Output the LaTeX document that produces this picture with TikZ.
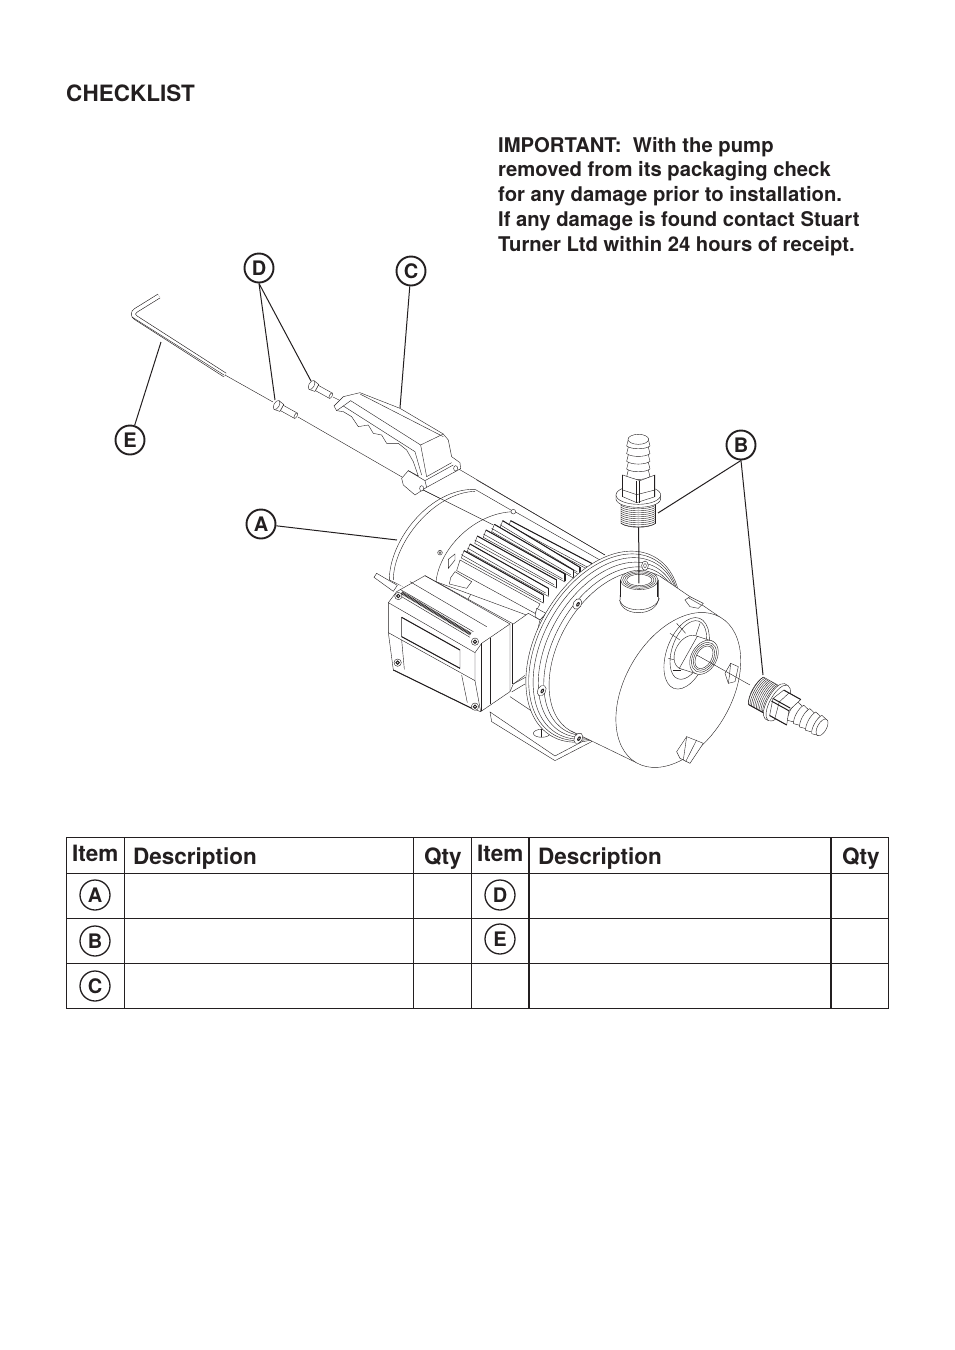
\documentclass[tikz,border=0pt]{standalone}
\usepackage{fontspec}
\setmainfont{TeX Gyre Heros}
\definecolor{ink}{HTML}{231F20}
\tikzset{
  viewa/.style={shift={(360,480)},x=.3333pt,y=-.3333pt},
  viewb/.style={shift={(520,420)},x=.3333pt,y=-.3333pt},
  viewc/.style={shift={(110,280)},x=.3333pt,y=-.3333pt},
  part/.style={draw=ink,line width=.4pt,fill=white},
  thinline/.style={draw=ink,line width=.4pt},
  heavyline/.style={draw=ink,line width=1pt},
  leader/.style={draw=ink,line width=1pt},
  callout/.style={circle,draw=ink,line width=1.9pt,inner sep=0pt,minimum size=29pt,text=ink,font=\bfseries\fontsize{20}{20}\selectfont},
  rowmark/.style={callout,line width=1.3pt,minimum size=30pt},
  headtext/.style={anchor=base west,inner sep=0pt,text=ink,font=\bfseries\fontsize{22.5}{24}\selectfont},
  gridline/.style={draw=ink,line width=.9pt},
  capscrew/.pic={
    \draw[part] (12,-9) -- (60,-9) -- (60,9) -- (12,9) -- cycle;
    \draw[part] (60,0) circle [x radius=4, y radius=9];
    \draw[part] (-6,-15) -- (12,-12) -- (12,12) -- (-6,15) -- cycle;
    \draw[part] (-6,0) circle [x radius=8, y radius=15];
  },
  barbfitting/.pic={
    \draw[part] (-52,-70) -- (-52,-10) .. controls (-30,6) and (30,6) .. (52,-10) -- (52,-70) -- cycle;
    \foreach \ty in {-64,-58,...,-10}
      \draw[thinline] (-52,\ty) .. controls (-30,\ty+14) and (30,\ty+14) .. (52,\ty);
    \draw[heavyline] (52,-70) -- (52,-12);
    \draw[part] (-67,-95) -- (-67,-82) .. controls (-60,-50) and (60,-50) .. (67,-82) -- (67,-95) -- cycle;
    \draw[part] (0,-95) circle [x radius=67, y radius=28];
    \foreach \by in {-150,-173,-196,-219,-242}
      \draw[part] (-35,\by) .. controls (-20,\by+11) and (20,\by+11) .. (35,\by) -- (29,\by-24) -- (-29,\by-24) -- cycle;
    \draw[part] (0,-262) circle [x radius=31, y radius=15];
    \draw[part] (-47,-155) -- (-47,-90) -- (-5,-72) -- (50,-90) -- (50,-155) -- (5,-138) -- cycle;
    \draw[heavyline] (-47,-155) -- (-47,-90);
    \draw[heavyline] (-5,-138) -- (-5,-72);
    \draw[heavyline] (5,-138) -- (5,-72);
    \draw[heavyline] (50,-155) -- (50,-90);
    \draw[thinline] (-47,-110) -- (-5,-96) -- (50,-110);
  },
}
\begin{document}
\begin{tikzpicture}[x=1pt,y=-1pt]
  \useasboundingbox (0,0) rectangle (954,1350);

  % hex key and the fixing line
  \draw[ink,line width=.6pt,double=white,double distance=3.6pt,rounded corners=7pt] (159,296) -- (130,314) -- (225,375);
  \draw[thinline] (132,317) -- (224,375);
  \draw[thinline] (225,375) -- (273,402);
  \draw[thinline] (298,417) -- (402,477);
  \draw[thinline] (333,397) -- (341,401);
  \draw[thinline] (457,468) -- (605,555);

  % screws
  \begin{scope}[viewc]
    \pic[rotate=-29] at (505,378) {capscrew};
    \pic[rotate=-29] at (610,318) {capscrew};
  \end{scope}

  % handle
  \begin{scope}[viewc]
    \draw[part] (1000,462) -- (1015,480) -- (1025,530) -- (1050,548) -- (1052,566) -- (950,622) -- (915,645) -- (880,615) -- (875,595) -- (895,572) -- (925,588) -- (910,545) -- (890,510) -- (865,490) -- (830,490) -- (815,465) -- (790,460) -- (775,435) -- (745,440) -- (725,410) -- (700,395) -- (680,392) -- (672,378) -- (700,350) -- (750,338) -- (870,385) -- cycle;
    \draw[thinline] (700,378) -- (722,362) -- (932,495) -- (1000,462);
    \draw[thinline] (680,392) -- (700,378) -- (915,515);
    \draw[thinline] (750,342) -- (1000,470);
    \draw[thinline] (932,495) -- (950,590) -- (1025,548);
    \draw[thinline] (915,515) -- (935,585);
    \draw[thinline] (895,572) -- (945,602) -- (1030,555);
    \draw[thinline] (945,602) -- (950,622);
    \draw[part] (935,625) circle [x radius=6, y radius=8];
    \draw[part] (1037,565) circle [x radius=6, y radius=8];
  \end{scope}
  \draw[thinline] (423,490) -- (493,525);

  % motor cowl and fins
  \begin{scope}[viewa]
    \draw[part] (88,300) .. controls (88,180) and (210,25) .. (345,28) -- (470,100) -- (300,400) -- cycle;
    \draw[thinline] (100,300) .. controls (100,190) and (220,38) .. (345,34);
    \fill[white] (100,302) -- (290,420) -- (300,400) -- (92,296) -- cycle;
    \draw[part] (228,305) .. controls (240,200) and (350,95) .. (465,95) -- (720,240) -- (540,420) -- cycle;
    \draw[thinline] (190,30) -- (400,135);
    \draw[part] (240,218) circle [radius=7];
    \draw[thinline] (240,218) circle [radius=3];
    \draw[part] (460,95) circle [radius=7];
    \foreach \xa/\ya/\xb/\yb in {452/122/695/250,428/122/660/262,403/133/640/270,378/150/615/282,352/168/590/300,330/192/565/325,312/212/550/345}{
      \draw[thinline,fill=white] (\xa,\ya) -- (\xb,\yb) -- (\xb,\yb+24) -- (\xa-8,\ya+22) -- cycle;
      \draw[thinline] (\xa-8,\ya+12) -- (\xb-8,\yb+14);
      \draw[heavyline] (\xa,\ya) -- (\xb,\yb);
      \draw[line width=1.6pt,draw=ink] (\xb,\yb) -- (\xb,\yb+20);
    }
    \draw[thinline,fill=white] (300,240) -- (540,372) -- (525,400) -- (290,272) -- cycle;
    \draw[thinline,fill=white] (265,238) -- (285,222) -- (285,240) -- (265,265) -- cycle;
    \draw[part] (272,293) -- (285,275) -- (335,305) -- (320,325) -- (268,312) -- cycle;
    \draw[part] (530,385) -- (558,400) -- (540,420) -- (525,410) -- cycle;
    \draw[thinline] (350,0) -- (735,225);
  \end{scope}

  % terminal box
  \begin{scope}[viewa]
    \draw[part] (42,292) -- (50,280) -- (112,316) -- (100,334) -- cycle;
    \draw[part] (85,368) -- (110,335) -- (195,287) -- (460,432) -- (505,400) -- (540,420) -- (500,590) -- (460,612) -- (450,635) -- (362,695) -- (335,685) -- (100,570) -- (85,458) -- cycle;
    \draw[thinline] (85,368) -- (345,518) -- (345,602) -- (85,458);
    \draw[thinline] (345,518) -- (365,490) -- (450,432);
    \draw[thinline] (345,602) -- (362,695);
    \draw[thinline] (150,305) -- (380,440);
    \draw[thinline] (195,287) -- (450,432) -- (450,635);
    \draw[line width=.8pt,draw=ink] (365,490) -- (365,692);
    \draw[line width=1pt,draw=ink] (393,475) -- (393,672);
    \draw[line width=1pt,draw=ink] (458,432) -- (458,612);
    \draw[thinline] (120,328) -- (340,455);
    \draw[thinline] (118,346) -- (330,472);
    \draw[draw=ink,line width=3pt,dash pattern=on .8pt off .6pt] (125,338) -- (332,462);
    \draw[thinline] (125,412) -- (300,510) -- (300,565) -- (125,470) -- cycle;
    \draw[heavyline] (125,470) -- (300,565);
    \draw[heavyline] (125,412) -- (300,510);
    \draw[thinline] (125,480) -- (133,568);
    \draw[thinline] (305,585) -- (322,668);
    \draw[heavyline] (100,570) -- (335,685);
    \draw[thinline] (460,612) -- (495,586);
    \draw[thinline] (455,636) -- (495,612);
    \foreach \sx/\sy in {115/348,345/485,345/680,113/548}{
      \draw[part] (\sx,\sy) circle [radius=11];
      \draw[heavyline] (\sx,\sy) circle [radius=5];
    }
  \end{scope}

  % foot and flange rings
  \begin{scope}[viewb]
    \draw[part] (-90,876) -- (-85,905) -- (105,1022) -- (215,965) -- (215,950) -- (105,1008) -- cycle;
    \draw[thinline] (-30,830) -- (60,890);
    \draw[part] (65,940) circle [x radius=25, y radius=12];
    \draw[heavyline] (65,928) -- (65,952);
    \foreach \sh/\ra/\rb in {0/310/200,3/303/195,9/295/188,16/285/180,24/275/172,35/268/168}
      \draw[part] ({250+\sh},{680+.58*\sh}) circle [x radius=\ra, y radius=\rb, rotate=60];
    \draw[part] (375,437) circle [x radius=10, y radius=14];
    \draw[thinline] (375,437) circle [x radius=4, y radius=6];
  \end{scope}

  % pump body
  \begin{scope}[viewb]
    \fill[white] (419,468) -- (601,592) -- (349,1028) -- (151,932) -- cycle;
    \draw[thinline] (419,468) -- (601,592);
    \draw[thinline] (151,932) -- (349,1028);
    \draw[part] (475,810) circle [x radius=252, y radius=160, rotate=60];
    \foreach \sx/\sy in {172/552,65/812,175/955}{
      \draw[part] (\sx,\sy) circle [x radius=12, y radius=17, rotate=-30];
      \draw[heavyline] (\sx+2,\sy+1) circle [x radius=3, y radius=6, rotate=-30];
    }
    % inlet
    \draw[part] (500,700) circle [x radius=112, y radius=60, rotate=70];
    \draw[thinline] (505,690) circle [x radius=92, y radius=48, rotate=70];
    \draw[thinline] (450,640) -- (480,660);
    \draw[thinline] (470,610) -- (497,640);
    \draw[thinline] (540,610) -- (528,645);
    \draw[thinline] (445,715) -- (472,722);
    \draw[thinline] (460,750) -- (482,750);
    \draw[part] (505,697) circle [x radius=55, y radius=38, rotate=60];
    \draw[part] (532,649) -- (579,664) -- (525,760) -- (478,745) -- cycle;
    \foreach \ra/\rb in {55/38,48/33,42/28,37/23}
      \draw[part] (552,712) circle [x radius=\ra, y radius=\rb, rotate=60];
    % outlet boss
    \draw[part] (302,480) -- (300,545) .. controls (310,590) and (405,590) .. (415,540) -- (415,480) -- cycle;
    \draw[thinline] (298,540) .. controls (310,580) and (405,580) .. (418,535);
    \draw[heavyline] (303,480) -- (303,530);
    \draw[heavyline] (413,480) -- (413,530);
    \foreach \ra/\rb in {56/29,50/25,44/21,38/17}
      \draw[part] (358,480) circle [x radius=\ra, y radius=\rb];
    % plugs
    \draw[part] (495,540) -- (510,530) -- (550,550) -- (535,565) -- (510,560) -- cycle;
    \draw[thinline] (505,533) -- (545,556);
    \draw[part] (615,760) -- (632,730) -- (655,740) -- (645,785) -- (625,790) -- cycle;
    \draw[thinline] (632,730) -- (628,770) -- (625,790);
    \draw[part] (470,995) -- (500,950) -- (550,970) -- (510,1030) -- (480,1015) -- cycle;
    \draw[thinline] (500,950) -- (490,1020);
    \draw[thinline] (530,960) -- (497,1025);
    \draw[thinline] (530,705) -- (690,795);
  \end{scope}

  % fittings
  \begin{scope}[viewb]
    \pic at (355,320) {barbfitting};
    \pic[rotate=-119,scale=.9] at (700,808) {barbfitting};
    \draw[line width=1pt,draw=ink] (356,322) -- (357,490);
  \end{scope}

  % callouts and leaders
  \node[callout] (A) at (261,524) {A};
  \node[callout] (B) at (741,445) {B};
  \node[callout] (C) at (411,271) {C};
  \node[callout] (D) at (259,268) {D};
  \node[callout] (E) at (130,440) {E};
  \coordinate (motorend) at (397,540);
  \coordinate (topfit) at (658,513);
  \coordinate (sidefit) at (763,675);
  \coordinate (handleend) at (400,408);
  \coordinate (screwa) at (275,400);
  \coordinate (screwb) at (311,381);
  \coordinate (keyend) at (161,342);
  \draw[leader] (A) -- (motorend);
  \draw[leader] (B.south) -- (topfit);
  \draw[leader] (B.south) -- (sidefit);
  \draw[leader] (C) -- (handleend);
  \draw[leader] (D.south) -- (screwa);
  \draw[leader] (D.south) -- (screwb);
  \draw[leader] (E) -- (keyend);

  % headings
  \node[headtext] (title) at (66,101) {CHECKLIST};
  \node[anchor=north west,inner sep=0pt,align=left,text=ink,font=\bfseries\fontsize{20.25}{24.7}\selectfont] (note) at (498,137) {IMPORTANT:\ \ With the pump\\removed from its packaging check\\for any damage prior to installation.\\If any damage is found contact Stuart\\Turner Ltd within 24 hours of receipt.};

  % table
  \draw[gridline] (66,837) rectangle (888,1008);
  \foreach \ry in {873,918,963}
    \draw[gridline] (66,\ry) -- (888,\ry);
  \foreach \cx in {124,413,471}
    \draw[gridline] (\cx,837) -- (\cx,1008);
  \foreach \cx in {529,831}
    \draw[draw=ink,line width=1.4pt] (\cx,837) -- (\cx,1008);
  \node[headtext] (itema) at (72,861) {Item};
  \node[headtext] (desca) at (133,864) {Description};
  \node[headtext] (qtya) at (424,864) {Qty};
  \node[headtext] (itemb) at (477,861) {Item};
  \node[headtext] (descb) at (538,864) {Description};
  \node[headtext] (qtyb) at (842,864) {Qty};
  \node[rowmark] (rowa) at (95,895) {A};
  \node[rowmark] (rowb) at (95,941) {B};
  \node[rowmark] (rowc) at (95,986) {C};
  \node[rowmark] (rowd) at (500,895) {D};
  \node[rowmark] (rowe) at (500,939) {E};
\end{tikzpicture}
\end{document}
